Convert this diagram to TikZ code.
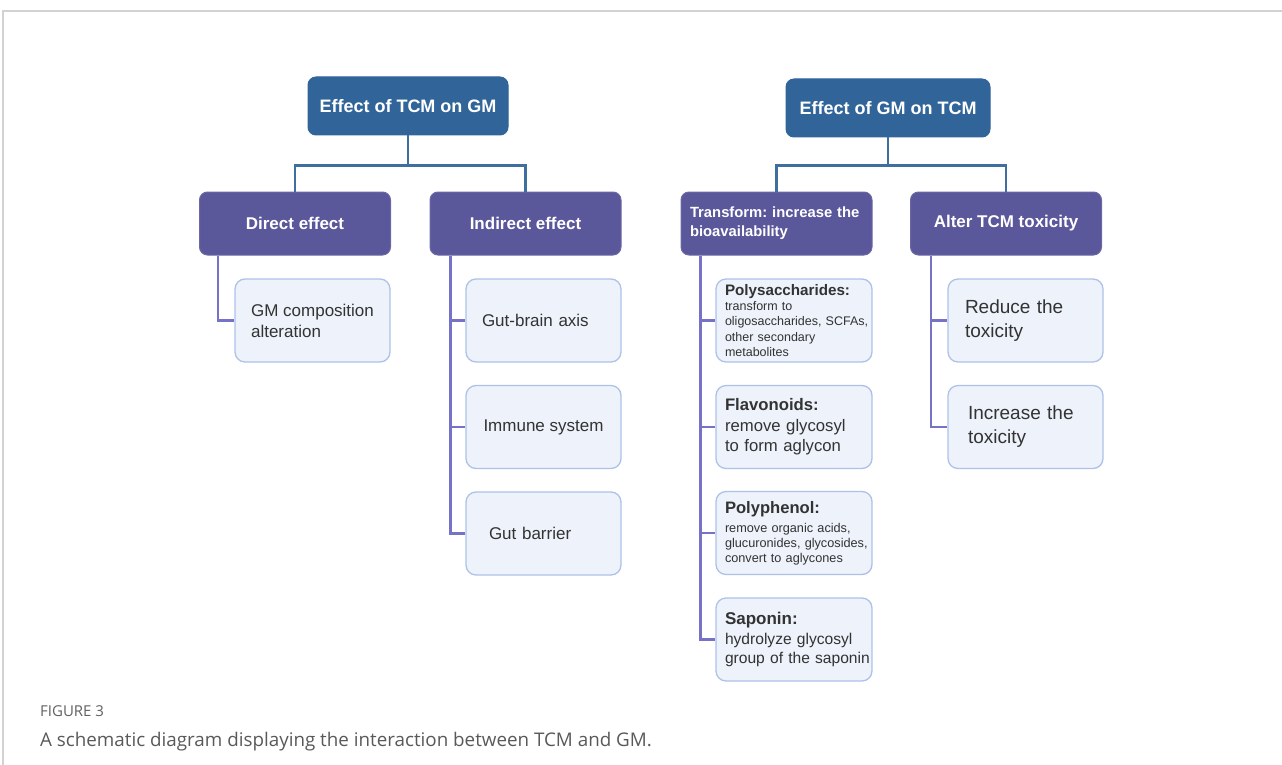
\documentclass[tikz,border=0pt]{standalone}
\usepackage{fontspec}
\setmainfont{Liberation Sans}
\newfontfamily\capfont{Open Sans}
\definecolor{topblue}{HTML}{31659A}
\definecolor{midpurple}{HTML}{5B579B}
\definecolor{toplink}{HTML}{3F6F9E}
\definecolor{lowlink}{HTML}{7572C8}
\definecolor{leafline}{HTML}{AEC2E8}
\definecolor{leaffill}{HTML}{EDF2FB}
\definecolor{leaftext}{HTML}{333333}
\definecolor{framegray}{HTML}{D2D2D2}
\frenchspacing
\tikzset{
  topbox/.style={draw=topblue, fill=topblue, rounded corners=8pt, line width=1pt,
    minimum width=200pt, minimum height=58pt, text=white, font=\bfseries\fontsize{18}{22}\selectfont, inner sep=0pt},
  midbox/.style={draw=midpurple!90!white, fill=midpurple, rounded corners=8pt, line width=1pt,
    minimum width=191pt, minimum height=63pt, text=white, font=\bfseries\fontsize{17}{20}\selectfont, inner sep=0pt},
  leafbox/.style={draw=leafline, fill=leaffill, rounded corners=10pt, line width=1.3pt,
    minimum width=155pt, minimum height=83pt, text=leaftext, align=left, inner ysep=0pt},
  toplinkst/.style={draw=toplink, line width=2.2pt},
  lowlinkst/.style={draw=lowlink, line width=2.2pt},
}
\begin{document}
\begin{tikzpicture}[x=1pt,y=-1pt]
\useasboundingbox (0,0) rectangle (1282,765);
% frame
\draw[framegray, line width=1.4pt] (1282,11) -- (3,11) -- (3,765);

% top boxes
\node[topbox] (t1) at (408,106) {Effect of TCM on GM};
\node[topbox, minimum width=204pt] (t2) at (888,108) {Effect of GM on TCM};

% second level
\node[midbox] (d1) at (295,223.5) {Direct effect};
\node[midbox] (d2) at (525.5,223.5) {Indirect effect};
\node[midbox, align=left, text width=173pt, font=\bfseries\fontsize{14.8}{19}\selectfont] (d3) at (776.5,223.5) {Transform: increase the\\bioavailability};
\node[midbox] (d4) at (1006,223.5) {Alter TCM toxicity};

% leaves
\node[leafbox, font=\fontsize{17}{21}\selectfont] (l1) at (312.5,320.5) {GM composition\\alteration};

\node[leafbox, font=\fontsize{17}{21}\selectfont, inner xsep=16pt, text width=123pt] (g1) at (543.5,320.5) {Gut-brain axis};
\node[leafbox, font=\fontsize{17}{21}\selectfont] (g2) at (543.5,427) {Immune system};
\node[leafbox, font=\fontsize{17}{21}\selectfont, inner xsep=23pt, text width=109pt] (g3) at (543.5,533.5) {Gut barrier};

\node[leafbox, minimum width=156pt, inner xsep=9pt, text width=138pt, font=\fontsize{12.5}{15.2}\selectfont] (p1) at (794,320.5)
  {{\bfseries\fontsize{15.2}{17}\selectfont Polysaccharides:}\\
   transform to\\\mbox{oligosaccharides, SCFAs,}\\other secondary\\metabolites};
\node[leafbox, minimum width=156pt, inner xsep=9pt, text width=138pt, font=\fontsize{16.7}{20.5}\selectfont] (p2) at (794,427)
  {{\bfseries Flavonoids:}\\remove glycosyl\\to form aglycon};
\node[leafbox, minimum width=156pt, inner xsep=9pt, text width=138pt, font=\fontsize{12.7}{15}\selectfont] (p3) at (794,533)
  {{\bfseries\fontsize{16.6}{19}\selectfont Polyphenol:}\\[4pt]
   remove organic acids,\\\mbox{glucuronides, glycosides,}\\convert to aglycones};
\node[leafbox, minimum width=156pt, inner xsep=9pt, text width=138pt, font=\fontsize{15.6}{19.5}\selectfont] (p4) at (794,639.5)
  {{\bfseries\fontsize{17}{20}\selectfont Saponin:}\\
   \mbox{hydrolyze glycosyl}\\\mbox{group of the saponin}};

\node[leafbox, font=\fontsize{19}{24}\selectfont, inner xsep=17pt, text width=121pt] (r1) at (1025.5,320.5) {Reduce the\\toxicity};
\node[leafbox, font=\fontsize{19}{24}\selectfont, inner xsep=20pt, text width=115pt] (r2) at (1025.5,427) {Increase the\\toxicity};

% top connectors
\draw[toplinkst] (t1.south) -- ++(0,30) -| (d1.north);
\draw[toplinkst] (t1.south) -- ++(0,30) -| (d2.north);
\draw[toplinkst] (t2.south) -- ++(0,28) -| (d3.north);
\draw[toplinkst] (t2.south) -- ++(0,28) -| (d4.north);

% lower connectors
\draw[lowlinkst] ([xshift=19pt]d1.south west) |- (l1.west);
\foreach \n in {g1,g2,g3} \draw[lowlinkst] ([xshift=21pt]d2.south west) |- (\n.west);
\foreach \n in {p1,p2,p3,p4} \draw[lowlinkst] ([xshift=20pt]d3.south west) |- (\n.west);
\foreach \n in {r1,r2} \draw[lowlinkst] ([xshift=21pt]d4.south west) |- (\n.west);

% caption
\node[anchor=base west, inner sep=0pt, text=black!62, font=\capfont\fontsize{15}{18}\selectfont] (fig) at (40,716) {FIGURE 3};
\node[anchor=base west, inner sep=0pt, text=black!65, font=\capfont\fontsize{18.8}{22}\selectfont] (cap) at (40,746) {A schematic diagram displaying the interaction between TCM and GM.};
\end{tikzpicture}
\end{document}
